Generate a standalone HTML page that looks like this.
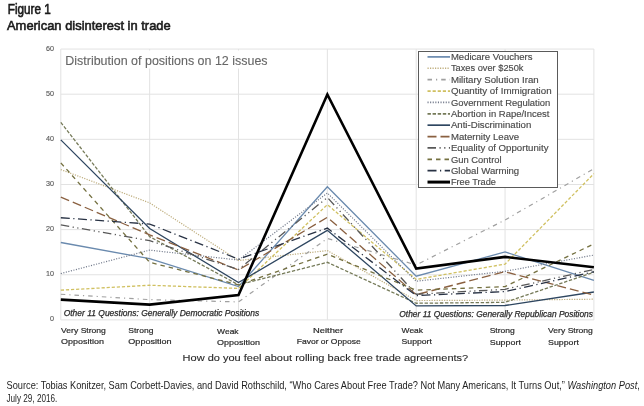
<!DOCTYPE html>
<html><head><meta charset="utf-8">
<style>
html,body{margin:0;padding:0;background:#fff;}
body{width:644px;height:406px;position:relative;overflow:hidden;font-family:"Liberation Sans",sans-serif;}
svg{position:absolute;left:0;top:0;will-change:transform;}
text{font-family:"Liberation Sans",sans-serif;}
.ti{fill:#1a1a1a;stroke:#1a1a1a;stroke-width:0.6;}
.src{fill:#1e1e1e;}
.lg{fill:#4a4a4a;stroke:#4a4a4a;stroke-width:0.15;}
.yl{fill:#595959;stroke:#595959;stroke-width:0.15;}
.xl{fill:#2a2a2a;stroke:#2a2a2a;stroke-width:0.2;}
.ot{fill:#2a2a2a;stroke:#2a2a2a;stroke-width:0.25;font-style:italic;}
.dist{fill:#666;stroke:#666;stroke-width:0.1;}
.ax{fill:#262626;stroke:#262626;stroke-width:0.1;}
</style></head><body>
<svg width="644" height="406" viewBox="0 0 644 406">
<text x="7.80" y="14.20" font-size="13.71" textLength="43.00" lengthAdjust="spacingAndGlyphs" class="ti">Figure 1</text>
<text x="7.00" y="30.40" font-size="13.57" textLength="163.70" lengthAdjust="spacingAndGlyphs" class="ti">American disinterest in trade</text>
<line x1="60.8" y1="49.05" x2="593.9" y2="49.05" stroke="#e2e2e2" stroke-width="1"/>
<line x1="60.8" y1="94.19" x2="593.9" y2="94.19" stroke="#e2e2e2" stroke-width="1"/>
<line x1="60.8" y1="139.33" x2="593.9" y2="139.33" stroke="#e2e2e2" stroke-width="1"/>
<line x1="60.8" y1="184.47" x2="593.9" y2="184.47" stroke="#e2e2e2" stroke-width="1"/>
<line x1="60.8" y1="229.61" x2="593.9" y2="229.61" stroke="#e2e2e2" stroke-width="1"/>
<line x1="60.8" y1="274.75" x2="593.9" y2="274.75" stroke="#e2e2e2" stroke-width="1"/>
<line x1="60.8" y1="319.89" x2="593.9" y2="319.89" stroke="#e2e2e2" stroke-width="1"/>
<line x1="60.8" y1="49.05" x2="60.8" y2="319.9" stroke="#e2e2e2" stroke-width="1"/>
<line x1="149.65" y1="49.05" x2="149.65" y2="319.9" stroke="#e2e2e2" stroke-width="1"/>
<line x1="238.5" y1="49.05" x2="238.5" y2="319.9" stroke="#e2e2e2" stroke-width="1"/>
<line x1="327.35" y1="49.05" x2="327.35" y2="319.9" stroke="#e2e2e2" stroke-width="1"/>
<line x1="416.2" y1="49.05" x2="416.2" y2="319.9" stroke="#e2e2e2" stroke-width="1"/>
<line x1="505.05" y1="49.05" x2="505.05" y2="319.9" stroke="#e2e2e2" stroke-width="1"/>
<line x1="593.9" y1="49.05" x2="593.9" y2="319.9" stroke="#e2e2e2" stroke-width="1"/>
<polyline points="60.80,242.50 149.65,258.70 238.50,286.60 327.35,186.70 416.20,276.25 505.05,251.95 593.90,280.30" fill="none" stroke="#6a8aae" stroke-width="1.3" stroke-linejoin="miter"/>
<polyline points="60.80,169.60 149.65,202.90 238.50,260.50 327.35,250.60 416.20,300.55 505.05,300.10 593.90,299.20" fill="none" stroke="#bfae7e" stroke-width="1.2" stroke-dasharray="1.2 1.3" stroke-linejoin="miter"/>
<polyline points="60.80,294.25 149.65,299.65 238.50,301.90 327.35,238.45 416.20,265.00 505.05,220.00 593.90,168.70" fill="none" stroke="#a0a0a0" stroke-width="1.2" stroke-dasharray="4.5 4 1.2 4" stroke-linejoin="miter"/>
<polyline points="60.80,290.20 149.65,285.25 238.50,288.40 327.35,204.70 416.20,279.40 505.05,264.10 593.90,173.65" fill="none" stroke="#d0c060" stroke-width="1.3" stroke-dasharray="3.2 1.9" stroke-linejoin="miter"/>
<polyline points="60.80,273.55 149.65,250.15 238.50,260.05 327.35,193.00 416.20,281.20 505.05,271.30 593.90,255.10" fill="none" stroke="#737b8c" stroke-width="1.2" stroke-dasharray="1.1 1.5" stroke-linejoin="miter"/>
<polyline points="60.80,122.35 149.65,236.65 238.50,284.80 327.35,262.30 416.20,303.25 505.05,302.35 593.90,272.20" fill="none" stroke="#757a58" stroke-width="1.3" stroke-dasharray="3.4 1.7" stroke-linejoin="miter"/>
<polyline points="60.80,139.90 149.65,228.55 238.50,282.55 327.35,230.35 416.20,305.95 505.05,305.50 593.90,292.00" fill="none" stroke="#2e4660" stroke-width="1.3" stroke-linejoin="miter"/>
<polyline points="60.80,197.05 149.65,234.85 238.50,269.95 327.35,217.30 416.20,294.70 505.05,271.75 593.90,295.15" fill="none" stroke="#8a6040" stroke-width="1.3" stroke-dasharray="9 4" stroke-linejoin="miter"/>
<polyline points="60.80,224.95 149.65,240.70 238.50,269.50 327.35,197.50 416.20,294.25 505.05,289.30 593.90,269.50" fill="none" stroke="#585858" stroke-width="1.3" stroke-dasharray="8.5 3.5 1.2 3.5 1.2 3.5" stroke-linejoin="miter"/>
<polyline points="60.80,162.85 149.65,262.30 238.50,284.80 327.35,254.20 416.20,290.20 505.05,286.60 593.90,243.85" fill="none" stroke="#747040" stroke-width="1.3" stroke-dasharray="4.5 4" stroke-linejoin="miter"/>
<polyline points="60.80,217.75 149.65,224.05 238.50,259.15 327.35,228.10 416.20,295.60 505.05,291.55 593.90,271.75" fill="none" stroke="#283244" stroke-width="1.3" stroke-dasharray="9 3.5 1.2 3.5" stroke-linejoin="miter"/>
<polyline points="60.80,299.65 149.65,304.60 238.50,295.15 327.35,94.45 416.20,268.60 505.05,256.90 593.90,267.25" fill="none" stroke="#000000" stroke-width="2.6" stroke-linejoin="miter"/>
<rect x="61.8" y="50.5" width="250" height="18" fill="#fff"/>
<text x="65.30" y="64.50" font-size="11.86" textLength="202.30" lengthAdjust="spacingAndGlyphs" class="dist">Distribution of positions on 12 issues</text>
<text x="46.00" y="50.65" font-size="8.00" textLength="8.00" lengthAdjust="spacingAndGlyphs" class="yl">60</text>
<text x="46.00" y="95.79" font-size="8.00" textLength="8.00" lengthAdjust="spacingAndGlyphs" class="yl">50</text>
<text x="46.00" y="140.93" font-size="8.00" textLength="8.00" lengthAdjust="spacingAndGlyphs" class="yl">40</text>
<text x="46.00" y="186.07" font-size="8.00" textLength="8.00" lengthAdjust="spacingAndGlyphs" class="yl">30</text>
<text x="46.00" y="231.21" font-size="8.00" textLength="8.00" lengthAdjust="spacingAndGlyphs" class="yl">20</text>
<text x="46.00" y="276.35" font-size="8.00" textLength="8.00" lengthAdjust="spacingAndGlyphs" class="yl">10</text>
<text x="50.00" y="321.49" font-size="8.00" textLength="4.00" lengthAdjust="spacingAndGlyphs" class="yl">0</text>
<rect x="418.5" y="51.5" width="139" height="136" fill="#fff" stroke="#5a5a5a" stroke-width="1"/>
<line x1="427.5" y1="56.90" x2="450" y2="56.90" stroke="#6a8aae" stroke-width="1.7000000000000002"/>
<text x="450.90" y="60.10" font-size="8.86" textLength="81.60" lengthAdjust="spacingAndGlyphs" class="lg">Medicare Vouchers</text>
<line x1="427.5" y1="68.28" x2="450" y2="68.28" stroke="#bfae7e" stroke-width="1.6" stroke-dasharray="1.2 1.3"/>
<text x="450.90" y="71.48" font-size="8.86" textLength="72.60" lengthAdjust="spacingAndGlyphs" class="lg">Taxes over $250k</text>
<line x1="427.5" y1="79.66" x2="450" y2="79.66" stroke="#a0a0a0" stroke-width="1.6" stroke-dasharray="4.5 4 1.2 4"/>
<text x="450.90" y="82.86" font-size="8.86" textLength="87.80" lengthAdjust="spacingAndGlyphs" class="lg">Military Solution Iran</text>
<line x1="427.5" y1="91.04" x2="450" y2="91.04" stroke="#d0c060" stroke-width="1.7000000000000002" stroke-dasharray="3.2 1.9"/>
<text x="450.90" y="94.24" font-size="8.86" textLength="100.70" lengthAdjust="spacingAndGlyphs" class="lg">Quantity of Immigration</text>
<line x1="427.5" y1="102.42" x2="450" y2="102.42" stroke="#737b8c" stroke-width="1.6" stroke-dasharray="1.1 1.5"/>
<text x="450.90" y="105.62" font-size="8.86" textLength="99.30" lengthAdjust="spacingAndGlyphs" class="lg">Government Regulation</text>
<line x1="427.5" y1="113.80" x2="450" y2="113.80" stroke="#757a58" stroke-width="1.7000000000000002" stroke-dasharray="3.4 1.7"/>
<text x="450.90" y="117.00" font-size="8.86" textLength="98.50" lengthAdjust="spacingAndGlyphs" class="lg">Abortion in Rape/Incest</text>
<line x1="427.5" y1="125.18" x2="450" y2="125.18" stroke="#2e4660" stroke-width="1.7000000000000002"/>
<text x="450.90" y="128.38" font-size="8.86" textLength="80.40" lengthAdjust="spacingAndGlyphs" class="lg">Anti-Discrimination</text>
<line x1="427.5" y1="136.56" x2="450" y2="136.56" stroke="#8a6040" stroke-width="1.7000000000000002" stroke-dasharray="9 4"/>
<text x="450.90" y="139.76" font-size="8.86" textLength="68.30" lengthAdjust="spacingAndGlyphs" class="lg">Maternity Leave</text>
<line x1="427.5" y1="147.94" x2="450" y2="147.94" stroke="#585858" stroke-width="1.7000000000000002" stroke-dasharray="8.5 3.5 1.2 3.5 1.2 3.5"/>
<text x="450.90" y="151.14" font-size="8.86" textLength="97.60" lengthAdjust="spacingAndGlyphs" class="lg">Equality of Opportunity</text>
<line x1="427.5" y1="159.32" x2="450" y2="159.32" stroke="#747040" stroke-width="1.7000000000000002" stroke-dasharray="4.5 4"/>
<text x="450.90" y="162.52" font-size="8.86" textLength="50.70" lengthAdjust="spacingAndGlyphs" class="lg">Gun Control</text>
<line x1="427.5" y1="170.70" x2="450" y2="170.70" stroke="#283244" stroke-width="1.7000000000000002" stroke-dasharray="9 3.5 1.2 3.5"/>
<text x="450.90" y="173.90" font-size="8.86" textLength="68.30" lengthAdjust="spacingAndGlyphs" class="lg">Global Warming</text>
<line x1="427.5" y1="182.08" x2="450" y2="182.08" stroke="#000000" stroke-width="3.0"/>
<text x="450.90" y="185.28" font-size="8.86" textLength="45.00" lengthAdjust="spacingAndGlyphs" class="lg">Free Trade</text>
<text x="63.70" y="316.10" font-size="8.57" textLength="195.50" lengthAdjust="spacingAndGlyphs" class="ot">Other 11 Questions: Generally Democratic Positions</text>
<text x="399.30" y="316.80" font-size="8.57" textLength="193.70" lengthAdjust="spacingAndGlyphs" class="ot">Other 11 Questions: Generally Republican Positions</text>
<text x="61.10" y="332.60" font-size="8.00" textLength="44.80" lengthAdjust="spacingAndGlyphs" class="xl">Very Strong</text>
<text x="61.10" y="343.70" font-size="8.00" textLength="42.90" lengthAdjust="spacingAndGlyphs" class="xl">Opposition</text>
<text x="128.30" y="332.60" font-size="8.00" textLength="25.10" lengthAdjust="spacingAndGlyphs" class="xl">Strong</text>
<text x="128.30" y="343.70" font-size="8.00" textLength="43.30" lengthAdjust="spacingAndGlyphs" class="xl">Opposition</text>
<text x="217.10" y="333.90" font-size="8.00" textLength="21.50" lengthAdjust="spacingAndGlyphs" class="xl">Weak</text>
<text x="217.10" y="345.10" font-size="8.00" textLength="42.90" lengthAdjust="spacingAndGlyphs" class="xl">Opposition</text>
<text x="313.00" y="332.50" font-size="8.00" textLength="30.20" lengthAdjust="spacingAndGlyphs" class="xl">Neither</text>
<text x="296.70" y="343.80" font-size="8.00" textLength="64.00" lengthAdjust="spacingAndGlyphs" class="xl">Favor or Oppose</text>
<text x="401.60" y="332.60" font-size="8.00" textLength="21.40" lengthAdjust="spacingAndGlyphs" class="xl">Weak</text>
<text x="401.60" y="343.70" font-size="8.00" textLength="30.30" lengthAdjust="spacingAndGlyphs" class="xl">Support</text>
<text x="489.70" y="333.00" font-size="8.00" textLength="25.10" lengthAdjust="spacingAndGlyphs" class="xl">Strong</text>
<text x="489.70" y="344.70" font-size="8.00" textLength="31.20" lengthAdjust="spacingAndGlyphs" class="xl">Support</text>
<text x="548.10" y="332.70" font-size="8.00" textLength="44.80" lengthAdjust="spacingAndGlyphs" class="xl">Very Strong</text>
<text x="548.10" y="344.70" font-size="8.00" textLength="30.80" lengthAdjust="spacingAndGlyphs" class="xl">Support</text>
<text x="182.60" y="361.10" font-size="9.86" textLength="285.60" lengthAdjust="spacingAndGlyphs" class="ax">How do you feel about rolling back free trade agreements?</text>
<text x="6.50" y="388.90" font-size="10.14" textLength="633.30" lengthAdjust="spacingAndGlyphs" class="src">Source: Tobias Konitzer, Sam Corbett-Davies, and David Rothschild, “Who Cares About Free Trade? Not Many Americans, It Turns Out,” <tspan font-style='italic'>Washington Post</tspan>,</text>
<text x="6.50" y="401.70" font-size="10.14" textLength="50.80" lengthAdjust="spacingAndGlyphs" class="src">July 29, 2016.</text>
</svg>
</body></html>
